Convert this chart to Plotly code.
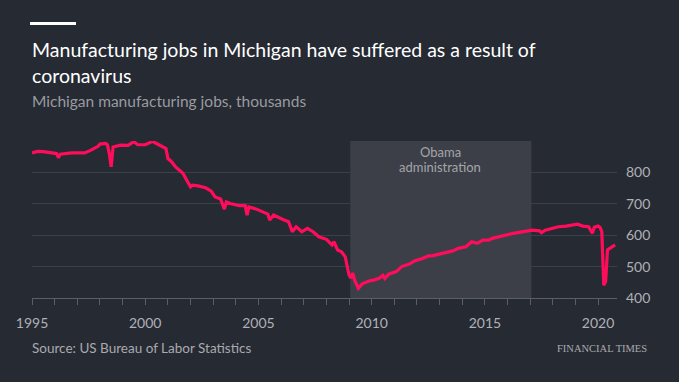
import plotly.graph_objects as go

dates = [
    "1995-01", "1995-04", "1995-07", "1995-11", "1996-02", "1996-03", "1996-04", "1996-10",
    "1997-05", "1997-08", "1997-12", "1998-01", "1998-04", "1998-05", "1998-06", "1998-07",
    "1998-08", "1998-12", "1999-04", "1999-07", "1999-09", "2000-01", "2000-04", "2000-05",
    "2000-07", "2000-10", "2000-12", "2001-01", "2001-03", "2001-05", "2001-09", "2001-11",
    "2002-01", "2002-02", "2002-05", "2002-09", "2002-12", "2003-02", "2003-05", "2003-07",
    "2003-08", "2003-10", "2004-03", "2004-06", "2004-07", "2004-08", "2004-12", "2005-03",
    "2005-06", "2005-07", "2005-09", "2006-02", "2006-05", "2006-07", "2006-09", "2006-12",
    "2007-03", "2007-06", "2007-09", "2008-01", "2008-04", "2008-05", "2008-07", "2008-09",
    "2008-11", "2009-01", "2009-02", "2009-03", "2009-04", "2009-06", "2009-08", "2009-12",
    "2010-02", "2010-05", "2010-07", "2010-08", "2010-10", "2011-02", "2011-05", "2011-09",
    "2011-12", "2012-04", "2012-07", "2012-09", "2013-01", "2013-04", "2013-08", "2013-11",
    "2014-03", "2014-06", "2014-09", "2014-12", "2015-03", "2015-05", "2015-08", "2015-12",
    "2016-04", "2016-07", "2016-11", "2017-02", "2017-06", "2017-07", "2017-09", "2018-01",
    "2018-04", "2018-08", "2018-11", "2019-02", "2019-05", "2019-08", "2019-10", "2019-11",
    "2020-01", "2020-02", "2020-03", "2020-04", "2020-05", "2020-06", "2020-08", "2020-10",
]
jobs = [
    862, 867, 866, 862, 860, 847, 858, 862,
    862, 870, 883, 890, 892, 888, 860, 818,
    881, 887, 886, 898, 888, 888, 897, 899,
    892, 881, 876, 844, 834, 818, 797, 775,
    754, 759, 757, 751, 740, 722, 715, 683,
    706, 701, 694, 694, 664, 690, 683, 675,
    667, 648, 664, 650, 643, 611, 627, 611,
    622, 611, 595, 587, 569, 579, 553, 547,
    531, 473, 463, 480, 457, 431, 445, 455,
    457, 463, 472, 462, 476, 484, 500, 508,
    519, 526, 534, 534, 540, 544, 550, 558,
    563, 579, 574, 584, 584, 590, 595, 600,
    606, 609, 614, 616, 614, 608, 616, 622,
    627, 629, 633, 635, 629, 627, 606, 625,
    629, 625, 611, 441, 452, 553, 561, 569,
]
y_ticks = [400, 500, 600, 700, 800]
obama_start, obama_end = "2009-01-20", "2017-01-20"

BG = "#262a33"
FONT = "Lato"

# plot area in pixels
L, R, T, B = 32, 617, 141, 298
W, H = R - L, B - T
def px(x): return (x - L) / W
def py(y): return (B - y) / H

fig = go.Figure()
fig.add_trace(go.Scatter(x=dates, y=jobs, mode="lines",
                         line=dict(color="#ff0d5b", width=3.2), hoverinfo="skip"))

fig.add_shape(type="rect", xref="x", yref="paper", x0=obama_start, x1=obama_end,
              y0=0, y1=1, fillcolor="#3c3f47", line_width=0, layer="between")
fig.add_shape(type="rect", xref="paper", yref="paper", x0=px(30), x1=px(76),
              y0=py(25), y1=py(22), fillcolor="#ffffff", line_width=0)

ann = []
def text(t, x, y, size, color, xanchor="left", family=FONT):
    ann.append(dict(text=t, x=px(x), y=py(y), xref="paper", yref="paper",
                    xanchor=xanchor, yanchor="middle", showarrow=False,
                    font=dict(size=size, color=color, family=family)))

text("Manufacturing jobs in Michigan have suffered as a result of", 30, 50, 19.5, "#ffffff")
text("coronavirus", 30, 75, 19.5, "#ffffff")
text("Michigan manufacturing jobs, thousands", 30, 101, 15.5, "#9a9ba0")
text("Obama", 440, 152, 13, "#a4a5aa", xanchor="center")
text("administration", 440, 167, 13, "#a4a5aa", xanchor="center")
text("Source: US Bureau of Labor Statistics", 30, 348, 13.5, "#a9aaae")
text("FINANCIAL TIMES", 649, 348, 10.5, "#a9aaae", xanchor="right",
     family="Liberation Serif")

fig.update_layout(
    width=679, height=382,
    margin=dict(l=L, r=679 - R, t=T, b=382 - B, pad=0),
    paper_bgcolor=BG, plot_bgcolor=BG,
    showlegend=False,
    annotations=ann,
    font=dict(family=FONT, color="#b0b1b6", size=14),
    xaxis=dict(
        type="date", range=["1995-01-01", "2020-11-01"],
        showgrid=False, zeroline=False,
        showline=True, linecolor="#5b5e66", linewidth=1,
        tick0="1995-01-01", dtick="M60", tickformat="%Y",
        ticks="outside", ticklen=6, tickcolor="#5b5e66", tickwidth=1,
        minor=dict(dtick="M12", tick0="1995-01-01", ticks="outside",
                   ticklen=6, tickcolor="#5b5e66", tickwidth=1, showgrid=False),
        tickfont=dict(size=14, color="#b0b1b6", family=FONT),
        ticklabelstandoff=6,
        fixedrange=True,
    ),
    yaxis=dict(
        range=[400, 900], side="right",
        tickvals=y_ticks, ticks="", showline=False, zeroline=False,
        showgrid=True, gridcolor="#3b3f47", gridwidth=1,
        tickfont=dict(size=14, color="#b0b1b6", family=FONT),
        ticklabelstandoff=8, fixedrange=True,
    ),
)

fig.write_html("out.html", config={"displayModeBar": False},
               post_script="document.body.style.margin='0';document.body.style.overflow='hidden';")
